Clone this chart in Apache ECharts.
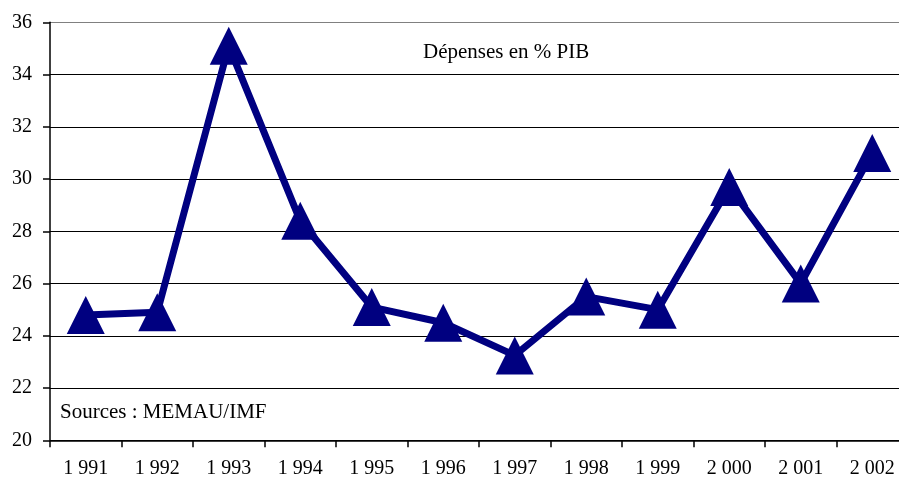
<!DOCTYPE html>
<html>
<head>
<meta charset="utf-8">
<script src="https://cdn.jsdelivr.net/npm/echarts@6/dist/echarts.min.js"></script>
<style>
  html, body { margin: 0; padding: 0; background: #fff; }
  #main { width: 899px; height: 480px; }
</style>
</head>
<body>
<div id="main"></div>
<script>
// année / dépenses en % du PIB
var years = ['1 991', '1 992', '1 993', '1 994', '1 995', '1 996', '1 997', '1 998', '1 999', '2 000', '2 001', '2 002'];
var depenses = [24.8, 24.9, 35.1, 28.4, 25.1, 24.5, 23.25, 25.5, 25.0, 29.7, 26.0, 31.0];
var yTicks = { min: 20, max: 36, step: 2 };

var myChart = echarts.init(document.getElementById('main'));

var serif = '"Liberation Serif", "Times New Roman", serif';

var chartopt = {
  animation: false,
  grid: {
    left: 50,
    top: 22.3,
    bottom: 39.7,
    width: 858,
    outerBoundsMode: 'none'
  },
  xAxis: {
    type: 'category',
    data: years,
    boundaryGap: true,
    axisLine: { lineStyle: { color: '#000', width: 1.5 } },
    axisTick: { show: true, length: 7, lineStyle: { color: '#000', width: 1.5 } },
    axisLabel: { color: '#000', fontFamily: serif, fontSize: 20, margin: 18 },
    splitLine: { show: false }
  },
  yAxis: {
    type: 'value',
    min: yTicks.min,
    max: yTicks.max,
    interval: yTicks.step,
    axisLine: { show: true, lineStyle: { color: '#000', width: 1.5 } },
    axisTick: { show: true, length: 7, lineStyle: { color: '#000', width: 1.5 } },
    axisLabel: { color: '#000', fontFamily: serif, fontSize: 20, margin: 18 },
    splitLine: {
      show: true,
      lineStyle: {
        color: ['#000', '#000', '#000', '#000', '#000', '#000', '#000', '#000', '#808080'],
        width: 1
      }
    }
  },
  graphic: [
    {
      type: 'text',
      left: 423,
      top: 42,
      style: { text: 'Dépenses en % PIB', font: '21px ' + serif, fill: '#000' }
    },
    {
      type: 'text',
      left: 60,
      top: 402,
      style: { text: 'Sources : MEMAU/IMF', font: '21px ' + serif, fill: '#000' }
    }
  ],
  series: [
    {
      name: 'Dépenses en % PIB',
      type: 'line',
      data: depenses,
      symbol: 'triangle',
      symbolSize: [38, 38],
      lineStyle: { color: '#000080', width: 7 },
      itemStyle: { color: '#000080' }
    }
  ]
};
myChart.setOption(chartopt);
</script>
</body>
</html>
